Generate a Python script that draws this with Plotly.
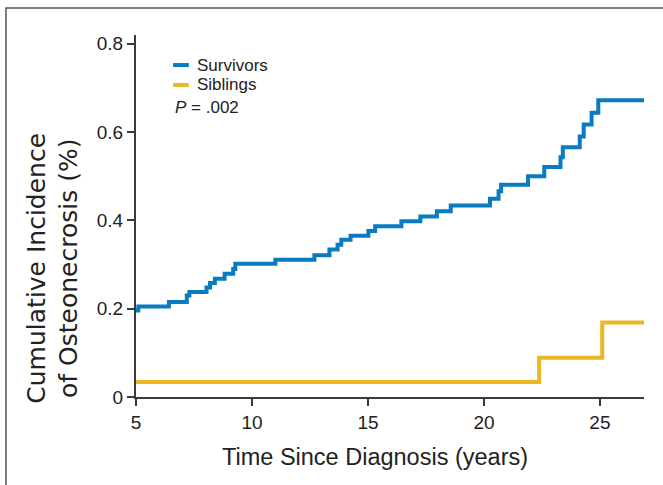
import plotly.graph_objects as go

# Data (step changes)
survivors_t = [5.0, 5.1, 6.42, 7.19, 7.3, 8.04, 8.19, 8.4, 8.82, 9.19, 9.28, 11.01, 12.69,
               13.34, 13.69, 13.85, 14.25, 15.02, 15.31, 16.44, 17.26, 17.97, 18.57, 20.26,
               20.63, 20.74, 21.9, 22.6, 23.3, 23.4, 24.13, 24.3, 24.64, 24.93, 26.9]
survivors_ci = [0.196, 0.205, 0.215, 0.23, 0.238, 0.248, 0.258, 0.268, 0.279, 0.29, 0.302,
                0.311, 0.321, 0.334, 0.345, 0.356, 0.365, 0.376, 0.387, 0.398, 0.409, 0.421,
                0.434, 0.449, 0.466, 0.481, 0.50, 0.521, 0.543, 0.566, 0.59, 0.617, 0.644,
                0.672, 0.672]
siblings_t = [5.0, 22.38, 25.1, 26.9]
siblings_ci = [0.034, 0.089, 0.169, 0.169]

x_ticks = [5, 10, 15, 20, 25]
y_ticks = [0, 0.2, 0.4, 0.6, 0.8]
y_ticktext = ["0", "0.2", "0.4", "0.6", "0.8"]

blue = "#0a7bc1"
yellow = "#e9b824"
axis_col = "#3a3a3a"

fig = go.Figure()
fig.add_trace(go.Scatter(x=survivors_t, y=survivors_ci, mode="lines", line_shape="hv",
                         line=dict(color=blue, width=4), name="Survivors", showlegend=False))
fig.add_trace(go.Scatter(x=siblings_t, y=siblings_ci, mode="lines", line_shape="hv",
                         line=dict(color=yellow, width=4), name="Siblings", showlegend=False))

tick_font = dict(family="Liberation Sans, Arial, sans-serif", size=19, color="#222")

fig.update_layout(
    width=663, height=485,
    margin=dict(l=136, r=19, t=35, b=88),
    paper_bgcolor="white", plot_bgcolor="white",
    xaxis=dict(range=[5, 26.9], tickvals=x_ticks, ticks="outside", ticklen=7, tickwidth=1.5,
               tickcolor=axis_col, showline=True, linecolor=axis_col, linewidth=2,
               showgrid=False, zeroline=False, tickfont=tick_font),
    yaxis=dict(range=[0, 0.82], tickvals=y_ticks, ticktext=y_ticktext, ticks="outside",
               ticklen=7, tickwidth=1.5, tickcolor=axis_col, showline=True, linecolor=axis_col,
               linewidth=2, showgrid=False, zeroline=False, tickfont=tick_font),
    showlegend=False,
)

# Axis titles
fig.add_annotation(text="Cumulative Incidence<br>of Osteonecrosis (%)", textangle=-90,
                   xref="paper", yref="paper", x=-0.163, y=0.355, xanchor="center",
                   yanchor="middle", showarrow=False,
                   font=dict(family="DejaVu Sans, sans-serif", size=25, color="#222"))
fig.add_annotation(text="Time Since Diagnosis (years)", xref="paper", yref="paper",
                   x=0.470, y=-0.166, xanchor="center", yanchor="middle", showarrow=False,
                   font=dict(family="Liberation Sans, Arial, sans-serif",
                             size=23.5, color="#222"))

# Legend (manual)
leg_font = dict(family="Liberation Sans, Arial, sans-serif", size=17, color="#222")
for name, col, yp in [("Survivors", blue, 0.917), ("Siblings", yellow, 0.862)]:
    fig.add_shape(type="line", xref="paper", yref="paper", x0=0.073, x1=0.104, y0=yp, y1=yp,
                  line=dict(color=col, width=4))
    fig.add_annotation(text=name, xref="paper", yref="paper", x=0.116, y=yp, xanchor="left",
                       yanchor="middle", showarrow=False, font=leg_font)
fig.add_annotation(text="<i>P</i> = .002", xref="paper", yref="paper", x=0.073, y=0.801,
                   xanchor="left", yanchor="middle", showarrow=False, font=leg_font)

# Outer frame
fig.add_shape(type="rect", xref="paper", yref="paper", x0=-0.2559, x1=1.2, y0=-0.5, y1=1.0746,
              line=dict(color="#555", width=1.5), layer="below")

fig.write_html("out.html", config={"displayModeBar": False},
               post_script="document.body.style.margin='0';")
